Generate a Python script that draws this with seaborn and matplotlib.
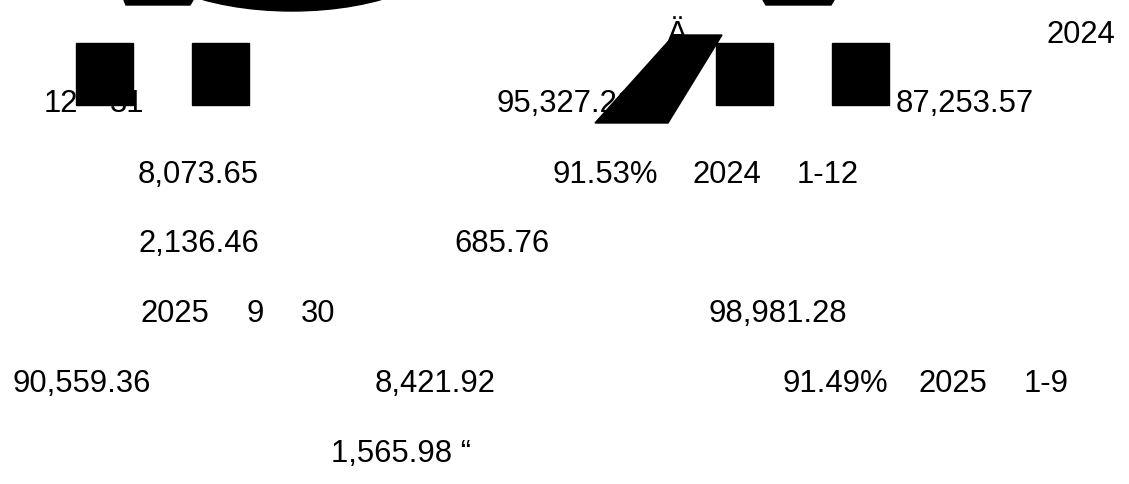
"""Rebuild the garbled page fragment: loose numbers and black blocks."""
import seaborn as sns
import matplotlib.pyplot as plt
from matplotlib.patches import Polygon, Rectangle, Ellipse

sns.set_theme(style="white")
plt.rcParams['font.family'] = ['Liberation Sans', 'DejaVu Sans']

# Text runs as they sit on the page (left x, baseline y, in pixels)
labels = ["2024", "Ä",
          "12", "31", "95,327.21", "87,253.57",
          "8,073.65", "91.53%", "2024", "1-12",
          "2,136.46", "685.76",
          "2025", "9", "30", "98,981.28",
          "90,559.36", "8,421.92", "91.49%", "2025", "1-9",
          "1,565.98 \u201c"]
label_x = [1046, 667,
           44, 110, 497, 896,
           138, 552, 693, 797,
           138, 454,
           141, 247, 301, 708,
           12, 375, 782, 918, 1024,
           331]
label_y = [43, 43,
           112, 112, 112, 112,
           183, 183, 183, 183,
           252, 252,
           322, 322, 322, 322,
           392, 392, 392, 392, 392,
           462]

# Black blocks drawn over the text
square_x = [76, 192, 716, 832]
square_top, square_w, square_h = 43, 57, 62
slant_block = [(595, 123), (668, 123), (722, 35), (674, 35)]
top_left_block = [(124, 0), (193, 0), (190, 5), (126, 5)]
top_right_block = [(763, 0), (834, 0), (831, 5), (766, 5)]

fig = plt.figure(figsize=(11.29, 4.84), dpi=100)
ax = fig.add_axes([0, 0, 1, 1])
ax.set_xlim(0, 1129)
ax.set_ylim(484, 0)
ax.axis("off")

for s, x, y in zip(labels, label_x, label_y):
    ax.text(x, y, s, fontsize=22.3, color="black", ha="left", va="baseline")

for x in square_x:
    ax.add_patch(Rectangle((x, square_top), square_w, square_h, color="black", zorder=3))
for pts in (slant_block, top_left_block, top_right_block):
    ax.add_patch(Polygon(pts, closed=True, color="black", zorder=3))
ax.add_patch(Ellipse((292, -60), 328, 142, color="black", zorder=3))

fig.savefig("out.png", dpi=100, facecolor="white")
plt.close(fig)
